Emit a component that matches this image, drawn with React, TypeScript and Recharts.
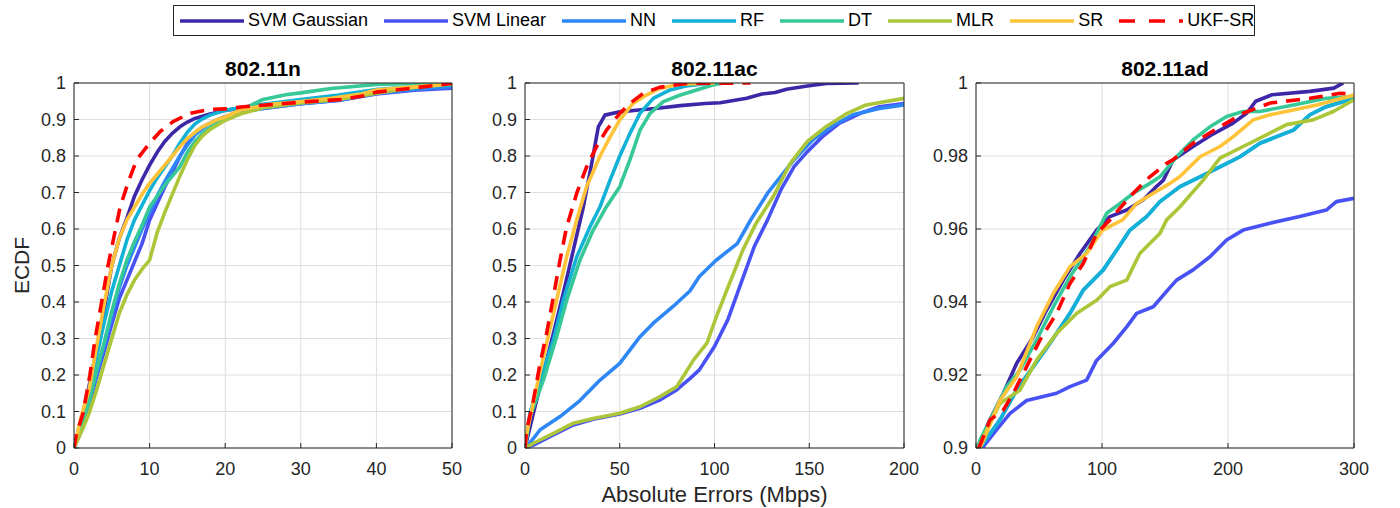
import React from "react";
import { LineChart, Line, XAxis, YAxis, CartesianGrid } from "recharts";

type Pt = [number, number];

const seriesNames = ["SVM Gaussian", "SVM Linear", "NN", "RF", "DT", "MLR", "SR", "UKF-SR"];
const seriesColors = ["#3E26A8", "#4852F4", "#2D87F7", "#12B1D6", "#37C897", "#ABC739", "#FEC338", "#FF0000"];
const panelTitles = ["802.11n", "802.11ac", "802.11ad"];

const nXTicks = [0, 10, 20, 30, 40, 50];
const acXTicks = [0, 50, 100, 150, 200];
const adXTicks = [0, 100, 200, 300];
const ecdfTicks = [0, 0.1, 0.2, 0.3, 0.4, 0.5, 0.6, 0.7, 0.8, 0.9, 1];
const adYTicks = [0.9, 0.92, 0.94, 0.96, 0.98, 1];

// 802.11n
const nSvmGaussian: Pt[] = [[0, 0], [1, 0.08], [2, 0.17], [3, 0.27], [4, 0.38], [5, 0.5], [6, 0.575], [7, 0.63], [8, 0.69], [9, 0.735], [10, 0.775], [11, 0.81], [12, 0.84], [13, 0.862], [14, 0.88], [15, 0.893], [16, 0.903], [18, 0.915], [20, 0.925], [25, 0.94], [30, 0.95], [35, 0.958], [40, 0.972], [45, 0.985], [50, 0.995]];
const nSvmLinear: Pt[] = [[0, 0], [1, 0.05], [2, 0.115], [3, 0.196], [4, 0.265], [5, 0.34], [6, 0.41], [7, 0.46], [8, 0.51], [9, 0.56], [10, 0.625], [11, 0.67], [12, 0.715], [13, 0.755], [14, 0.798], [15, 0.835], [16, 0.86], [17, 0.88], [19, 0.9], [21, 0.915], [23, 0.925], [26, 0.933], [30, 0.943], [35, 0.952], [40, 0.97], [45, 0.98], [50, 0.986]];
const nNN: Pt[] = [[0, 0], [1, 0.055], [2, 0.125], [3, 0.205], [4, 0.28], [5, 0.36], [6, 0.44], [7, 0.5], [8, 0.55], [9, 0.6], [10, 0.645], [11, 0.69], [12, 0.73], [13, 0.765], [14, 0.8], [15, 0.83], [16, 0.858], [17, 0.875], [18, 0.89], [20, 0.907], [22, 0.92], [25, 0.93], [30, 0.943], [35, 0.953], [40, 0.972], [45, 0.982], [50, 0.99]];
const nRF: Pt[] = [[0, 0], [1, 0.08], [2, 0.15], [3, 0.25], [4, 0.345], [5, 0.43], [6, 0.5], [7, 0.57], [8, 0.625], [9, 0.665], [10, 0.705], [11, 0.74], [12, 0.77], [13, 0.8], [14, 0.835], [15, 0.865], [16, 0.888], [17, 0.902], [18, 0.912], [20, 0.925], [22, 0.932], [25, 0.942], [30, 0.955], [35, 0.967], [40, 0.982], [45, 0.99], [50, 0.995]];
const nDT: Pt[] = [[0, 0], [1, 0.06], [2, 0.13], [3, 0.214], [4, 0.29], [5, 0.375], [6, 0.45], [7, 0.515], [8, 0.565], [9, 0.61], [10, 0.66], [11, 0.69], [12, 0.72], [13, 0.745], [14, 0.77], [15, 0.81], [16, 0.84], [17, 0.862], [18, 0.878], [19, 0.892], [20, 0.905], [22, 0.925], [25, 0.955], [28, 0.968], [30, 0.973], [34, 0.985], [40, 0.996], [45, 0.999], [50, 1]];
const nMLR: Pt[] = [[0, 0], [1, 0.045], [2, 0.095], [3, 0.16], [4, 0.23], [5, 0.3], [6, 0.37], [7, 0.42], [8, 0.46], [9, 0.49], [10, 0.515], [11, 0.59], [12, 0.645], [13, 0.695], [14, 0.745], [15, 0.79], [16, 0.83], [17, 0.855], [18, 0.873], [20, 0.898], [22, 0.915], [25, 0.932], [30, 0.945], [35, 0.955], [40, 0.972], [45, 0.988], [50, 0.998]];
const nSR: Pt[] = [[0, 0], [1, 0.09], [2, 0.16], [3, 0.28], [4, 0.395], [5, 0.5], [6, 0.575], [7, 0.625], [8, 0.66], [9, 0.695], [10, 0.725], [11, 0.75], [12, 0.775], [13, 0.8], [14, 0.825], [15, 0.848], [16, 0.865], [17, 0.88], [18, 0.89], [19, 0.9], [20, 0.907], [22, 0.926], [26, 0.942], [30, 0.949], [34, 0.958], [38, 0.97], [40, 0.981], [44, 0.988], [48, 0.994], [50, 0.999]];
const nUkfSR: Pt[] = [[0, 0], [0.35, 0.04], [1.2, 0.095], [2.1, 0.2], [2.8, 0.3], [3.7, 0.405], [4.5, 0.5], [5.2, 0.57], [6.1, 0.66], [7.2, 0.73], [8.3, 0.79], [9.8, 0.83], [11.4, 0.867], [13.1, 0.894], [15.3, 0.917], [18, 0.928], [20, 0.929], [22.4, 0.935], [26.8, 0.942], [31, 0.949], [35.6, 0.955], [38.3, 0.965], [40, 0.975], [44.4, 0.985], [48, 0.994], [50, 0.999]];

// 802.11ac
const acSvmGaussian: Pt[] = [[0, 0], [4.4, 0.095], [9.7, 0.205], [15, 0.314], [20.2, 0.424], [25.5, 0.542], [30.8, 0.661], [35.2, 0.78], [38.7, 0.88], [42.2, 0.912], [50, 0.921], [60, 0.926], [70, 0.931], [82, 0.938], [95, 0.944], [103, 0.946], [110, 0.952], [117, 0.958], [125, 0.97], [132, 0.974], [138, 0.983], [149, 0.992], [159, 0.999], [176, 1]];
const acSvmLinear: Pt[] = [[0, 0], [4.4, 0.008], [15, 0.036], [25.5, 0.063], [36, 0.079], [50, 0.093], [60.7, 0.109], [71, 0.131], [80, 0.159], [87, 0.19], [92, 0.214], [100, 0.278], [107, 0.351], [114, 0.452], [121, 0.552], [128, 0.625], [135, 0.707], [142, 0.771], [149, 0.812], [157, 0.853], [166, 0.89], [177, 0.917], [187, 0.935], [200, 0.944]];
const acNN: Pt[] = [[0, 0], [1, 0.004], [8, 0.05], [18.5, 0.086], [29, 0.13], [39.6, 0.186], [50, 0.232], [60.7, 0.305], [67.7, 0.342], [78, 0.387], [87, 0.43], [92, 0.47], [101, 0.515], [112, 0.56], [119, 0.624], [128, 0.698], [135, 0.744], [142, 0.79], [152, 0.845], [163, 0.885], [173, 0.913], [187, 0.93], [200, 0.94]];
const acRF: Pt[] = [[0, 0], [2.6, 0.095], [7.9, 0.186], [15, 0.296], [20.2, 0.405], [27.3, 0.524], [34.3, 0.606], [39.6, 0.661], [44.9, 0.734], [50, 0.8], [55.4, 0.862], [60.7, 0.917], [67.7, 0.958], [76.5, 0.981], [85, 0.992], [95, 0.998], [105, 1]];
const acDT: Pt[] = [[0, 0], [2.6, 0.086], [9.7, 0.186], [16.7, 0.305], [22, 0.405], [29, 0.515], [36, 0.597], [43, 0.661], [50, 0.716], [55.4, 0.79], [60.7, 0.871], [66, 0.917], [73, 0.949], [82, 0.967], [90.6, 0.981], [99.4, 0.995], [105, 1]];
const acMLR: Pt[] = [[0, 0], [4.4, 0.013], [15, 0.04], [25.5, 0.068], [36, 0.081], [50, 0.095], [60.7, 0.113], [71, 0.14], [80, 0.168], [84, 0.2], [88.8, 0.24], [96, 0.287], [101, 0.36], [108, 0.452], [115, 0.543], [122, 0.616], [131, 0.689], [140, 0.78], [149, 0.84], [159, 0.881], [170, 0.917], [180, 0.94], [200, 0.958]];
const acSR: Pt[] = [[0, 0], [0.9, 0.04], [6.2, 0.168], [11.4, 0.287], [16.7, 0.406], [22, 0.524], [27.3, 0.625], [32.5, 0.716], [39.6, 0.8], [45, 0.853], [50, 0.899], [57, 0.944], [64, 0.967], [71, 0.985], [82, 0.997], [100, 1]];
const acUkfSR: Pt[] = [[0, 0], [0.9, 0.05], [4.4, 0.13], [7.9, 0.23], [11.4, 0.314], [15, 0.415], [18.5, 0.515], [22, 0.606], [27.3, 0.698], [32.5, 0.77], [37.8, 0.826], [43, 0.871], [50, 0.917], [55.4, 0.944], [62.4, 0.972], [71, 0.988], [85, 0.999], [119, 1]];

// 802.11ad
const adSvmGaussian: Pt[] = [[2, 0.9], [3.2, 0.9013], [10, 0.907], [21.7, 0.915], [32.3, 0.9232], [45.5, 0.9305], [56, 0.9378], [69.3, 0.946], [82.5, 0.9533], [95.8, 0.9597], [106.3, 0.9634], [119.6, 0.9652], [132.8, 0.968], [143, 0.9716], [146, 0.9725], [148.7, 0.9734], [156.6, 0.979], [172.3, 0.9826], [188, 0.986], [204, 0.989], [215, 0.9918], [222, 0.995], [235, 0.9968], [265, 0.9977], [284, 0.9986], [291.5, 1]];
const adSvmLinear: Pt[] = [[5, 0.9], [5.8, 0.9004], [16.4, 0.905], [27, 0.9095], [40.2, 0.913], [64, 0.915], [74.6, 0.9168], [87.8, 0.9186], [95.7, 0.924], [109, 0.9287], [119.6, 0.9332], [127.5, 0.9369], [140.7, 0.9387], [154, 0.944], [159.2, 0.946], [172.3, 0.9488], [185.7, 0.9524], [198.9, 0.957], [212, 0.9597], [233.3, 0.9616], [256.9, 0.9634], [278, 0.9652], [286, 0.9675], [300, 0.9684]];
const adNN: Pt[] = [[3, 0.9], [5.8, 0.9013], [19, 0.9077], [32.3, 0.9159], [45.5, 0.9223], [58.7, 0.9287], [74.6, 0.9369], [85.2, 0.9433], [101, 0.9488], [111.6, 0.9542], [122.2, 0.9597], [135.4, 0.9634], [146, 0.9675], [161.9, 0.9716], [177.8, 0.9743], [193.6, 0.977], [209.5, 0.9798], [225.4, 0.9835], [238.6, 0.9853], [251.9, 0.9871], [265, 0.9913], [278, 0.9935], [300, 0.9958]];
const adRF: Pt[] = [[3, 0.9], [5.8, 0.9013], [19, 0.9077], [32.3, 0.9159], [45.5, 0.9223], [58.7, 0.9287], [74.6, 0.9369], [85.2, 0.9433], [101, 0.9488], [111.6, 0.9542], [122.2, 0.9597], [135.4, 0.9634], [146, 0.9675], [161.9, 0.9716], [177.8, 0.9743], [193.6, 0.977], [209.5, 0.9798], [225.4, 0.9835], [238.6, 0.9853], [251.9, 0.9871], [265, 0.9913], [278, 0.9935], [300, 0.9958]];
const adDT: Pt[] = [[1, 0.9], [3.2, 0.9022], [13.8, 0.9095], [24.3, 0.9168], [35, 0.9214], [48.1, 0.9296], [61.4, 0.9387], [74.6, 0.9469], [90.5, 0.9552], [103.7, 0.9643], [114.3, 0.967], [124.9, 0.9698], [138, 0.9725], [146, 0.9743], [159.2, 0.9798], [172.3, 0.9844], [185.7, 0.988], [198.9, 0.9908], [212, 0.9922], [225.4, 0.9922], [252, 0.994], [278, 0.9958], [300, 0.9963]];
const adMLR: Pt[] = [[2, 0.9], [5.8, 0.9031], [19, 0.9122], [35, 0.9159], [48.1, 0.9241], [64, 0.9314], [80, 0.9369], [95.8, 0.9405], [106.3, 0.9442], [119.6, 0.946], [130, 0.9533], [140.7, 0.957], [146, 0.9588], [151.3, 0.9625], [161.9, 0.9661], [180.3, 0.9734], [193.6, 0.9794], [212, 0.9826], [225.4, 0.9849], [246.5, 0.9886], [267.5, 0.9899], [283.6, 0.9922], [300, 0.9954]];
const adSR: Pt[] = [[3, 0.9], [5.8, 0.902], [19, 0.913], [32.3, 0.9195], [48.1, 0.9332], [61.4, 0.9424], [74.6, 0.9497], [87.8, 0.9533], [100.5, 0.9597], [116.4, 0.9625], [127.5, 0.967], [140.7, 0.9698], [154, 0.9725], [161.9, 0.9744], [177.8, 0.9798], [193.6, 0.9826], [204.2, 0.9853], [220, 0.9899], [233.3, 0.9913], [251.9, 0.9926], [270.4, 0.994], [286.3, 0.9954], [300, 0.9967]];
const adUkfSR: Pt[] = [[2, 0.9], [3.2, 0.9008], [11.1, 0.9077], [21.7, 0.9104], [29.6, 0.915], [40.2, 0.9223], [50.8, 0.9296], [64, 0.9369], [74.6, 0.9451], [85.2, 0.9506], [95.8, 0.9588], [106.3, 0.9625], [122.2, 0.9689], [138, 0.9743], [151.3, 0.978], [156.6, 0.979], [172.3, 0.9835], [193.6, 0.988], [212, 0.9917], [233.3, 0.9945], [265, 0.9958], [289, 0.9972], [300, 0.997]];

const nSeries = [nSvmGaussian, nSvmLinear, nNN, nRF, nDT, nMLR, nSR, nUkfSR];
const acSeries = [acSvmGaussian, acSvmLinear, acNN, acRF, acDT, acMLR, acSR, acUkfSR];
const adSeries = [adSvmGaussian, adSvmLinear, adNN, adRF, adDT, adMLR, adSR, adUkfSR];

const AXIS = "#262626";
const FONT = "'Liberation Sans', Arial, Helvetica, sans-serif";

// rotated y-axis title, centred on the plot height
function YTitle(props: any) {
  const { viewBox, value } = props;
  const cx = viewBox.x + 21;
  const cy = viewBox.y + viewBox.height / 2;
  return (
    <text x={cx} y={cy} transform={`rotate(-90, ${cx}, ${cy})`} textAnchor="middle" dy="0.36em"
      fill={AXIS} fontSize={21}>{value}</text>
  );
}

interface PanelProps {
  left: number;
  width: number;
  plotLeft: number;
  plotRight: number;
  title: string;
  series: Pt[][];
  xTicks: number[];
  yTicks: number[];
  xLabel?: string;
  yLabel?: string;
}

function Panel({ left, width, plotLeft, plotRight, title, series, xTicks, yTicks, xLabel, yLabel }: PanelProps) {
  const xDomain = [xTicks[0], xTicks[xTicks.length - 1]];
  const yDomain = [yTicks[0], yTicks[yTicks.length - 1]];
  const axisW = plotLeft - left;
  const rightM = left + width - plotRight - 1;
  return (
    <div style={{ position: "absolute", left, top: 0, width, height: 508 }}>
      <div style={{
        position: "absolute", left: axisW, width: plotRight - plotLeft, top: 57,
        textAlign: "center", fontWeight: "bold", fontSize: 21, lineHeight: "24px", color: "#000",
      }}>{title}</div>
      <LineChart width={width} height={508} margin={{ top: 82, right: rightM, bottom: 0, left: 0 }}>
        <CartesianGrid stroke="#dedede" />
        <XAxis dataKey="x" type="number" domain={xDomain} ticks={xTicks} interval={0} allowDataOverflow
          height={60} tickSize={-5} tickMargin={19}
          axisLine={{ stroke: AXIS }} tickLine={{ stroke: AXIS }}
          tick={{ fill: AXIS, fontSize: 18 }}
          label={xLabel ? { value: xLabel, position: "insideBottom", offset: 6, fill: AXIS, fontSize: 22 } : undefined} />
        <XAxis xAxisId="top" orientation="top" type="number" domain={xDomain} ticks={xTicks} interval={0}
          height={1} tickSize={-5} tick={false} axisLine={{ stroke: AXIS }} tickLine={{ stroke: AXIS }} />
        <YAxis type="number" domain={yDomain} ticks={yTicks} interval={0} allowDataOverflow
          width={axisW} tickSize={-5} tickMargin={13}
          axisLine={{ stroke: AXIS }} tickLine={{ stroke: AXIS }}
          tick={{ fill: AXIS, fontSize: 18 }} tickFormatter={(v: number) => String(v)}
          label={yLabel ? <YTitle value={yLabel} /> : undefined} />
        <YAxis yAxisId="right" orientation="right" type="number" domain={yDomain} ticks={yTicks} interval={0}
          width={1} tickSize={-5} tick={false} axisLine={{ stroke: AXIS }} tickLine={{ stroke: AXIS }} />
        {series.map((pts, i) => (
          <Line key={seriesNames[i]} name={seriesNames[i]} data={pts.map(([x, y]) => ({ x, y }))}
            dataKey="y" type="linear" stroke={seriesColors[i]} strokeWidth={3.6}
            strokeDasharray={i === 7 ? "14 9" : undefined} strokeLinejoin="round"
            dot={false} activeDot={false} isAnimationActive={false} />
        ))}
      </LineChart>
    </div>
  );
}

function LegendBox() {
  return (
    <div style={{
      position: "absolute", left: 173, top: 5, width: 1082, height: 31, boxSizing: "border-box",
      border: `1px solid ${AXIS}`, background: "#fff", display: "flex", alignItems: "center",
      paddingLeft: 6, fontSize: 18, color: "#000", whiteSpace: "nowrap",
    }}>
      {seriesNames.map((name, i) => (
        <div key={name} style={{ display: "flex", alignItems: "center", marginRight: 16 }}>
          <svg width={64} height={10}>
            <line x1={0} y1={5} x2={64} y2={5} stroke={seriesColors[i]} strokeWidth={3.6}
              strokeDasharray={i === 7 ? "16 14" : undefined} />
          </svg>
          <span style={{ marginLeft: 4 }}>{name}</span>
        </div>
      ))}
    </div>
  );
}

export default function App() {
  return (
    <div style={{ position: "absolute", left: 0, top: 0, width: 1400, height: 508, background: "#fff", fontFamily: FONT, overflow: "hidden" }}>
      <Panel left={0} width={480} plotLeft={74} plotRight={452} title={panelTitles[0]} series={nSeries}
        xTicks={nXTicks} yTicks={ecdfTicks} yLabel="ECDF" />
      <Panel left={460} width={480} plotLeft={525} plotRight={904} title={panelTitles[1]} series={acSeries}
        xTicks={acXTicks} yTicks={ecdfTicks} xLabel="Absolute Errors (Mbps)" />
      <Panel left={915} width={485} plotLeft={976} plotRight={1354} title={panelTitles[2]} series={adSeries}
        xTicks={adXTicks} yTicks={adYTicks} />
      <LegendBox />
    </div>
  );
}
